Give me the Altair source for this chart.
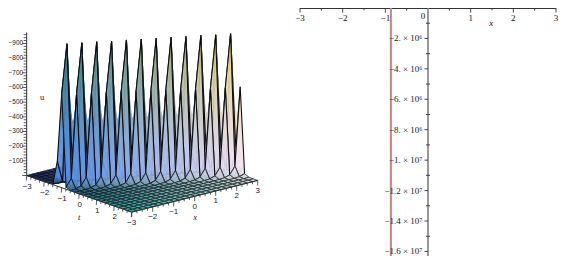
import altair as alt
import pandas as pd

# ---------- values ----------
# left panel: surface u(x, t) on a 25 x 25 grid
GRID_STEP = 0.25
GRID_COUNT = 25
RIDGE_PEAKS = [972, 971, 970, 967, 968, 967, 964, 963, 961, 961, 958, 959]
RIDGE_SHOULDERS = [640, 635, 630, 628, 625, 620, 618, 612, 610, 605, 600, 598, 597]
# height by distance (in grid quarter steps of x-2t) from the ridge line
FRONT_TAIL = [64, 14, 3, 1]
BACK_TAIL = [170, 25, 6, 1.5]
U_MAJOR = [100, 200, 300, 400, 500, 600, 700, 800, 900]
U_TOP = 975
X3D_LABELS = [-3, -2, -1, 0, 1, 2, 3]
T3D_LABELS = [-3, -2, -1, 0, 1, 2]
# right panel
X_TICKS = [-3, -2, -1, 1, 2, 3]
X_MINOR = [-2.5, -1.5, -0.5, 0.5, 1.5, 2.5]
Y_TICKS = [-2e6, -4e6, -6e6, -8e6, -1e7, -1.2e7, -1.4e7, -1.6e7]
Y_LABELS = ["\u22122. \u00d7 10\u2076", "\u22124. \u00d7 10\u2076", "\u22126. \u00d7 10\u2076", "\u22128. \u00d7 10\u2076",
            "\u22121. \u00d7 10\u2077", "\u22121.2 \u00d7 10\u2077", "\u22121.4 \u00d7 10\u2077", "\u22121.6 \u00d7 10\u2077"]
Y_MINOR = [-1e6, -3e6, -5e6, -7e6, -9e6, -1.1e7, -1.3e7, -1.5e7]
RED_X = [-0.87, -0.87]
RED_Y = [0, -1.63e7]

# ---------- view of the 3-D box (scene units are screen pixels) ----------
ORIGIN = (26.7, 175.5)
EX = (21.0, -5.28)
ET = (17.5, 6.1)
EU = (0.0, -0.1467)
TOTAL_W, TOTAL_H = 551, 248
RIGHT_RANGE = [292, 548]
RIGHT_W = RIGHT_RANGE[1] - RIGHT_RANGE[0]


def proj(x, t, u=0.0):
    return (ORIGIN[0] + (x + 3) * EX[0] + (t + 3) * ET[0] + u * EU[0],
            ORIGIN[1] + (x + 3) * EX[1] + (t + 3) * ET[1] + u * EU[1])


xs = [-3 + GRID_STEP * i for i in range(GRID_COUNT)]
ts = [-3 + GRID_STEP * j for j in range(GRID_COUNT)]
U = {}
for xv in xs:
    for tv in ts:
        d = round(((xv - 2 * tv) + 0.75) / GRID_STEP)
        val = 0.0
        if d == 0:
            val = RIDGE_PEAKS[round((xv + 2.75) / 0.5)]
        elif d == -1:
            val = RIDGE_SHOULDERS[round((xv + 3) / 0.5)]
        elif -6 <= d <= -2 and -d - 2 < len(FRONT_TAIL):
            val = FRONT_TAIL[-d - 2]
        elif 1 <= d <= len(BACK_TAIL):
            val = BACK_TAIL[d - 1]
        U[(xv, tv)] = val


def mix(a, b, f):
    return tuple(p + (q - p) * f for p, q in zip(a, b))


NAVY, TEAL_F, LIGHT_F, BACK_F = (.10, .14, .33), (.22, .70, .66), (.84, .87, .86), (.62, .52, .66)
BLUE, PINK = (.34, .56, .90), (.96, .90, .95)
TEAL_T, YELLOW = (.24, .50, .50), (.94, .84, .42)


def shade(x, t, u):
    fx, ft = (x + 3) / 6, (t + 3) / 6
    floor = mix(mix(NAVY, BACK_F, fx), mix(TEAL_F, LIGHT_F, fx), ft)
    mid = mix(BLUE, PINK, fx)
    top = mix(TEAL_T, YELLOW, fx)
    h = u / 970
    if h < .06:
        c = mix(floor, mid, h / .06)
    else:
        c = mix(mid, top, min(1, ((h - .06) / .94)) ** 1.3)
    return "#%02x%02x%02x" % tuple(int(max(0, min(1, v)) * 255) for v in c)


def feat(pts, fill, stroke, width):
    ring = [list(p) for p in pts] + [list(pts[0])]
    return {"type": "Feature", "geometry": {"type": "Polygon", "coordinates": [ring]},
            "properties": {"fill": fill, "stroke": stroke, "sw": width}}


features = []
for tv in ts[:-1]:
    for xv in reversed(xs[:-1]):
        c = [(xv, tv), (xv + GRID_STEP, tv), (xv + GRID_STEP, tv + GRID_STEP), (xv, tv + GRID_STEP)]
        us = [U[p] for p in c]
        n = 7 if max(us) > 100 else (3 if max(us) > 10 else 1)
        for a in range(n):
            for b in range(n):
                verts = []
                for (fa, fb) in [(a / n, b / n), ((a + 1) / n, b / n), ((a + 1) / n, (b + 1) / n), (a / n, (b + 1) / n)]:
                    uu = (us[0] * (1 - fa) * (1 - fb) + us[1] * fa * (1 - fb) + us[2] * fa * fb + us[3] * (1 - fa) * fb)
                    verts.append((xv + GRID_STEP * fa, tv + GRID_STEP * fb, uu))
                cx = sum(v[0] for v in verts) / 4
                ct = sum(v[1] for v in verts) / 4
                cu = sum(v[2] for v in verts) / 4
                col = shade(cx, ct, cu)
                features.append(feat([proj(*v) for v in verts], col, col, 0.3))
        features.append(feat([proj(p[0], p[1], U[p]) for p in c], "transparent", "#080a10",
                             1.05 if max(us) > 100 else 0.65))

surface = alt.Chart(alt.Data(values=features)).mark_geoshape().encode(
    fill=alt.Fill("properties.fill:N", scale=None),
    stroke=alt.Stroke("properties.stroke:N", scale=None),
    strokeWidth=alt.StrokeWidth("properties.sw:Q", scale=None),
).project(type="identity", scale=1, translate=[-8, -8])

# axes of the 3-D box
segs = []


def seg(a, b, w=0.8, col="#333333"):
    segs.append({"x": a[0], "y": a[1], "x2": b[0], "y2": b[1], "w": w, "c": col})


seg(proj(-3, 3), proj(3, 3), 1)
seg(proj(-3, -3), proj(-3, 3), 1)
seg(proj(-3, -3, 0), proj(-3, -3, U_TOP), 1)
for i, xv in enumerate(xs):
    a = proj(xv, 3)
    seg(a, (a[0], a[1] + (5 if i % 4 == 0 else 2.5)))
for j, tv in enumerate(ts):
    a = proj(-3, tv)
    seg(a, (a[0] - 0.4, a[1] + (5 if j % 4 == 0 else 2.5)), 0.8, "#2a3050")
for k in range(0, U_TOP + 1, 20):
    a = proj(-3, -3, k)
    seg(a, (a[0] - (3 if k % 100 else 4.5), a[1]))

xsc = alt.Scale(domain=[8, 8 + TOTAL_W], nice=False, zero=False)
ysc = alt.Scale(domain=[8, 8 + TOTAL_H], reverse=True, nice=False, zero=False)
axes3d = alt.Chart(pd.DataFrame(segs)).mark_rule().encode(
    x=alt.X("x:Q", scale=xsc, axis=None), x2="x2:Q",
    y=alt.Y("y:Q", scale=ysc, axis=None), y2="y2:Q",
    strokeWidth=alt.StrokeWidth("w:Q", scale=None),
    color=alt.Color("c:N", scale=None),
)

num = []
for v in X3D_LABELS:
    p = proj(v, 3)
    num.append({"x": p[0], "y": p[1] + 10.5, "s": str(v).replace("-", "\u2212")})
for v in T3D_LABELS:
    p = proj(-3, v)
    num.append({"x": p[0] + 0.5, "y": p[1] + 11, "s": str(v).replace("-", "\u2212")})
nums = alt.Chart(pd.DataFrame(num)).mark_text(font="Liberation Sans", fontSize=8, color="#222222").encode(
    x=alt.X("x:Q", scale=xsc, axis=None), y=alt.Y("y:Q", scale=ysc, axis=None), text="s:N")
ulab = [{"x": proj(-3, -3, v)[0] - 3.5, "y": proj(-3, -3, v)[1], "s": "\u2212" + str(v)} for v in U_MAJOR]
ulabels = alt.Chart(pd.DataFrame(ulab)).mark_text(font="Liberation Sans", fontSize=6.5, align="right", color="#222222").encode(
    x=alt.X("x:Q", scale=xsc, axis=None), y=alt.Y("y:Q", scale=ysc, axis=None), text="s:N")
uname = [{"x": proj(-3, -3, 0)[0] + 15.5, "y": proj(-3, -3, 535)[1], "s": "u"}]
uletter = alt.Chart(pd.DataFrame(uname)).mark_text(font="Liberation Serif", fontSize=8.5, color="#222222").encode(
    x=alt.X("x:Q", scale=xsc, axis=None), y=alt.Y("y:Q", scale=ysc, axis=None), text="s:N")
names = [{"x": proj(0.05, 3)[0] - 0.5, "y": proj(0, 3)[1] + 21, "s": "x"},
         {"x": proj(-3, 0)[0], "y": proj(-3, 0)[1] + 23, "s": "t"}]
nametext = alt.Chart(pd.DataFrame(names)).mark_text(font="Liberation Serif", fontStyle="italic", fontSize=8.5, color="#222222").encode(
    x=alt.X("x:Q", scale=xsc, axis=None), y=alt.Y("y:Q", scale=ysc, axis=None), text="s:N")
left = alt.layer(surface, axes3d, nums, ulabels, uletter, nametext)

# ---------- right panel: axes drawn through the panel's own scales ----------
x2d = alt.Scale(domain=[-3, 3], range=RIGHT_RANGE, nice=False, zero=False)
y2d = alt.Scale(domain=[RED_Y[1], 0], nice=False, zero=False)
XPX = 6 / RIGHT_W            # data units per pixel
YPX = -RED_Y[1] / TOTAL_H
X_ENC = alt.X("x:Q", scale=x2d, axis=None)
Y_ENC = alt.Y("y:Q", scale=y2d, axis=None)

rseg = []
rseg.append({"x": -3, "x2": 3, "y": -0.5 * YPX, "y2": -0.5 * YPX, "w": 1, "c": "#333333"})
rseg.append({"x": 0, "x2": 0, "y": 0, "y2": RED_Y[1], "w": 1.6, "c": "#7f7f7f"})
for v in X_TICKS:
    rseg.append({"x": v, "x2": v, "y": 0, "y2": -4.5 * YPX, "w": 0.9, "c": "#333333"})
for v in X_MINOR:
    rseg.append({"x": v, "x2": v, "y": 0, "y2": -2.5 * YPX, "w": 0.9, "c": "#333333"})
for v in Y_TICKS:
    rseg.append({"x": -3.5 * XPX, "x2": 0, "y": v, "y2": v, "w": 0.9, "c": "#333333"})
for v in Y_MINOR:
    rseg.append({"x": -2 * XPX, "x2": 2 * XPX, "y": v, "y2": v, "w": 0.9, "c": "#333333"})
raxes = alt.Chart(pd.DataFrame(rseg)).mark_rule().encode(
    x=X_ENC, x2="x2:Q", y=Y_ENC, y2="y2:Q",
    strokeWidth=alt.StrokeWidth("w:Q", scale=None), color=alt.Color("c:N", scale=None))
red = alt.Chart(pd.DataFrame({"x": RED_X, "y": RED_Y})).mark_line(color="#c9827c", strokeWidth=2).encode(x=X_ENC, y=Y_ENC)

xlab = pd.DataFrame({"x": X_TICKS, "s": [str(v).replace("-", "\u2212") for v in X_TICKS]})
xlab["y"] = -10 * YPX
xlabels = alt.Chart(xlab).mark_text(font="Liberation Serif", fontSize=9, color="#111111").encode(x=X_ENC, y=Y_ENC, text="s:N")
zero = alt.Chart(pd.DataFrame({"x": [-5 * XPX], "y": [-8 * YPX], "s": ["0"]})).mark_text(
    font="Liberation Serif", fontSize=9, color="#111111").encode(x=X_ENC, y=Y_ENC, text="s:N")
xname = alt.Chart(pd.DataFrame({"x": [1.48], "y": [-1.0e6], "s": ["x"]})).mark_text(
    font="Liberation Serif", fontStyle="italic", fontSize=9, color="#111111").encode(x=X_ENC, y=Y_ENC, text="s:N")
ylab = pd.DataFrame({"y": Y_TICKS, "s": Y_LABELS})
ylab["x"] = -5.5 * XPX
ylabels = alt.Chart(ylab).mark_text(font="Liberation Serif", fontSize=9, color="#222222", align="right").encode(x=X_ENC, y=Y_ENC, text="s:N")
right = alt.layer(raxes, red, ylabels, xlabels, zero, xname)

chart = alt.layer(left, right).resolve_scale(x="independent", y="independent").properties(
    width=TOTAL_W, height=TOTAL_H, padding=0, autosize=alt.AutoSizeParams(type="none")
).configure_view(stroke=None)
chart.save("out.html", embed_options={"renderer": "svg", "actions": False})
